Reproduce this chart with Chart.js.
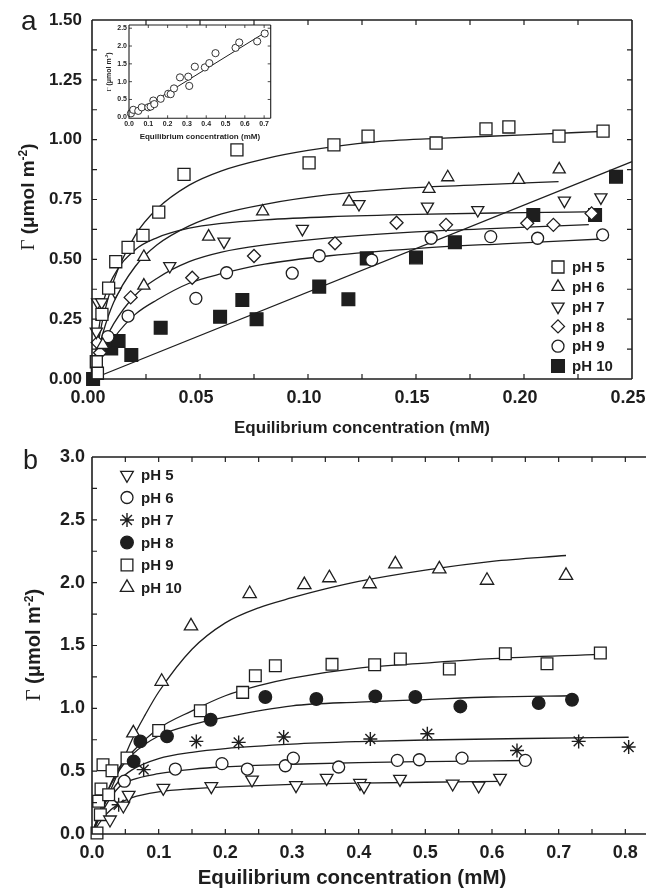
<!DOCTYPE html>
<html><head><meta charset="utf-8">
<script src="https://cdn.jsdelivr.net/npm/chart.js@4.4.1/dist/chart.umd.min.js"></script>
<style>
html,body{margin:0;padding:0;background:#fff;width:646px;height:890px;overflow:hidden;}
#wrap{position:relative;width:646px;height:890px;background:#fff;}
canvas{position:absolute;}
</style></head><body>
<div id="wrap">
<canvas id="cA" width="646" height="445" style="left:0;top:0"></canvas>
<canvas id="cIn" width="185" height="128" style="left:95px;top:18px"></canvas>
<canvas id="cB" width="646" height="445" style="left:0;top:445px"></canvas>
</div>
<script>
// ---------------- Panel a data ----------------
const aSeries = ['pH 5', 'pH 6', 'pH 7', 'pH 8', 'pH 9', 'pH 10'];
const aTicksX = [0, 0.05, 0.10, 0.15, 0.20, 0.25];
const aTicksY = [0, 0.25, 0.5, 0.75, 1.0, 1.25, 1.5];

const aPH5x = [0.002, 0.0025, 0.0046, 0.0077, 0.011, 0.0167, 0.0236, 0.0309, 0.0426, 0.0671, 0.1005, 0.112, 0.1278, 0.1593, 0.1824, 0.193, 0.2162, 0.2366];
const aPH5y = [0.072, 0.024, 0.27, 0.38, 0.49, 0.55, 0.60, 0.697, 0.855, 0.957, 0.903, 0.978, 1.015, 0.986, 1.045, 1.053, 1.015, 1.036];
const aPH6x = [0.005, 0.024, 0.024, 0.054, 0.079, 0.119, 0.156, 0.1647, 0.1975, 0.2163];
const aPH6y = [0.142, 0.39, 0.51, 0.595, 0.70, 0.741, 0.794, 0.843, 0.832, 0.876];
const aPH7x = [0.0026, 0.0045, 0.002, 0.0107, 0.036, 0.0611, 0.0974, 0.1236, 0.1553, 0.1786, 0.2187, 0.2356];
const aPH7y = [0.32, 0.32, 0.198, 0.365, 0.472, 0.574, 0.627, 0.731, 0.72, 0.706, 0.745, 0.759];
const aPH8x = [0.0026, 0.0037, 0.0179, 0.0464, 0.075, 0.1125, 0.141, 0.1639, 0.2015, 0.2136, 0.2313];
const aPH8y = [0.152, 0.11, 0.341, 0.423, 0.514, 0.567, 0.653, 0.644, 0.651, 0.644, 0.692];
const aPH9x = [0.0074, 0.0167, 0.0481, 0.0623, 0.0927, 0.1052, 0.1295, 0.157, 0.1846, 0.2063, 0.2364];
const aPH9y = [0.177, 0.263, 0.337, 0.444, 0.442, 0.515, 0.497, 0.588, 0.595, 0.588, 0.602];
const aPH10x = [0.0005, 0.0089, 0.0123, 0.0182, 0.0318, 0.0593, 0.0696, 0.0762, 0.1052, 0.1187, 0.1272, 0.150, 0.168, 0.2043, 0.2329, 0.2426];
const aPH10y = [0.0, 0.128, 0.159, 0.10, 0.214, 0.26, 0.33, 0.25, 0.386, 0.333, 0.504, 0.508, 0.571, 0.685, 0.685, 0.845];

// fitted curves
const aFit5x = [0, 0.005, 0.01, 0.02, 0.03, 0.045, 0.06, 0.08, 0.10, 0.13, 0.16, 0.20, 0.237];
const aFit5y = [0, 0.25, 0.41, 0.60, 0.71, 0.81, 0.87, 0.92, 0.955, 0.99, 1.005, 1.02, 1.035];
const aFit6x = [0, 0.005, 0.01, 0.02, 0.03, 0.045, 0.06, 0.08, 0.11, 0.15, 0.19, 0.216];
const aFit6y = [0, 0.19, 0.32, 0.47, 0.56, 0.64, 0.69, 0.73, 0.77, 0.80, 0.815, 0.825];
const aFit7x = [0, 0.005, 0.01, 0.02, 0.03, 0.045, 0.06, 0.08, 0.11, 0.15, 0.19, 0.236];
const aFit7y = [0, 0.31, 0.43, 0.54, 0.59, 0.63, 0.65, 0.665, 0.678, 0.688, 0.694, 0.699];
const aFit8x = [0, 0.005, 0.01, 0.02, 0.03, 0.045, 0.06, 0.08, 0.11, 0.15, 0.19, 0.23];
const aFit8y = [0, 0.14, 0.23, 0.35, 0.42, 0.49, 0.53, 0.56, 0.59, 0.615, 0.63, 0.645];
const aFit9x = [0, 0.005, 0.01, 0.02, 0.03, 0.045, 0.06, 0.08, 0.11, 0.15, 0.19, 0.236];
const aFit9y = [0, 0.10, 0.17, 0.27, 0.33, 0.40, 0.44, 0.48, 0.515, 0.545, 0.565, 0.585];
const aFit10x = [0, 0.25];
const aFit10y = [0, 0.908];

// ---------------- Inset data ----------------
const inTicksX = [0, 0.1, 0.2, 0.3, 0.4, 0.5, 0.6, 0.7];
const inTicksY = [0, 0.5, 1.0, 1.5, 2.0, 2.5];
const inX = [0.010, 0.022, 0.048, 0.066, 0.100, 0.112, 0.126, 0.131, 0.164, 0.203, 0.216, 0.233, 0.264, 0.307, 0.312, 0.341, 0.393, 0.416, 0.448, 0.552, 0.571, 0.664, 0.703];
const inY = [0.11, 0.21, 0.18, 0.28, 0.28, 0.30, 0.47, 0.37, 0.52, 0.66, 0.65, 0.81, 1.12, 1.14, 0.88, 1.42, 1.40, 1.52, 1.80, 1.95, 2.10, 2.13, 2.35];
const inFitX = [0, 0.72];
const inFitY = [0.02, 2.43];

// ---------------- Panel b data ----------------
const bSeries = ['pH 5', 'pH 6', 'pH 7', 'pH 8', 'pH 9', 'pH 10'];
const bTicksX = [0, 0.1, 0.2, 0.3, 0.4, 0.5, 0.6, 0.7, 0.8];
const bTicksY = [0, 0.5, 1.0, 1.5, 2.0, 2.5, 3.0];

const bPH5x = [0.027, 0.047, 0.055, 0.107, 0.179, 0.24, 0.306, 0.352, 0.402, 0.408, 0.462, 0.541, 0.58, 0.612];
const bPH5y = [0.114, 0.225, 0.31, 0.366, 0.379, 0.432, 0.387, 0.445, 0.405, 0.379, 0.437, 0.40, 0.384, 0.445];
const bPH6x = [0.0485, 0.125, 0.195, 0.233, 0.29, 0.302, 0.37, 0.458, 0.491, 0.555, 0.65];
const bPH6y = [0.42, 0.517, 0.56, 0.517, 0.543, 0.604, 0.533, 0.586, 0.591, 0.604, 0.586];
const bPH7x = [0.04, 0.0775, 0.1565, 0.22, 0.2875, 0.4175, 0.503, 0.6375, 0.73, 0.805];
const bPH7y = [0.233, 0.512, 0.737, 0.729, 0.772, 0.756, 0.798, 0.665, 0.737, 0.692];
const bPH8x = [0.0625, 0.0725, 0.1125, 0.178, 0.26, 0.3365, 0.425, 0.485, 0.5525, 0.67, 0.72];
const bPH8y = [0.578, 0.737, 0.777, 0.909, 1.09, 1.074, 1.095, 1.09, 1.015, 1.042, 1.068];
const bPH9x = [0.0075, 0.0125, 0.01, 0.0135, 0.0165, 0.025, 0.03, 0.0525, 0.1, 0.1625, 0.226, 0.245, 0.275, 0.36, 0.424, 0.4625, 0.536, 0.62, 0.6825, 0.7625];
const bPH9y = [0.008, 0.154, 0.26, 0.358, 0.551, 0.313, 0.503, 0.605, 0.824, 0.981, 1.127, 1.26, 1.339, 1.35, 1.347, 1.392, 1.313, 1.434, 1.355, 1.44];
const bPH10x = [0.062, 0.1045, 0.1485, 0.2365, 0.3185, 0.356, 0.4165, 0.455, 0.521, 0.5925, 0.711];
const bPH10y = [0.803, 1.214, 1.655, 1.912, 1.983, 2.038, 1.99, 2.148, 2.108, 2.018, 2.057];

const bFit5x = [0, 0.02, 0.04, 0.06, 0.1, 0.15, 0.2, 0.3, 0.4, 0.5, 0.612];
const bFit5y = [0, 0.15, 0.24, 0.29, 0.335, 0.36, 0.375, 0.395, 0.405, 0.412, 0.418];
const bFit6x = [0, 0.02, 0.04, 0.06, 0.1, 0.15, 0.2, 0.3, 0.4, 0.5, 0.65];
const bFit6y = [0, 0.22, 0.37, 0.43, 0.48, 0.515, 0.535, 0.555, 0.568, 0.576, 0.585];
const bFit7x = [0, 0.02, 0.04, 0.06, 0.1, 0.15, 0.2, 0.3, 0.4, 0.5, 0.65, 0.805];
const bFit7y = [0, 0.25, 0.42, 0.51, 0.6, 0.65, 0.68, 0.715, 0.735, 0.748, 0.76, 0.77];
const bFit8x = [0, 0.02, 0.04, 0.06, 0.1, 0.15, 0.2, 0.3, 0.4, 0.5, 0.6, 0.72];
const bFit8y = [0, 0.3, 0.5, 0.63, 0.78, 0.87, 0.93, 1.02, 1.05, 1.07, 1.09, 1.10];
const bFit9x = [0, 0.02, 0.04, 0.06, 0.1, 0.15, 0.2, 0.25, 0.3, 0.4, 0.5, 0.6, 0.7625];
const bFit9y = [0, 0.3, 0.52, 0.65, 0.84, 0.98, 1.10, 1.18, 1.24, 1.32, 1.36, 1.395, 1.43];
const bFit10x = [0, 0.02, 0.04, 0.06, 0.08, 0.1, 0.15, 0.2, 0.25, 0.3, 0.35, 0.4, 0.5, 0.6, 0.711];
const bFit10y = [0, 0.25, 0.5, 0.75, 0.95, 1.13, 1.47, 1.68, 1.8, 1.88, 1.95, 2.01, 2.1, 2.17, 2.216];

// ---------------- helpers ----------------
const SANS = '"Liberation Sans", Arial, Helvetica, sans-serif';
const SERIF = '"Liberation Serif", "Times New Roman", serif';
const INK = '#1e1e1e';
const zip = (xs, ys) => xs.map((x, i) => ({x: x, y: ys[i]}));

function marker(label, xs, ys, st) {
  return {
    label: label, data: zip(xs, ys), showLine: false, order: 0, clip: false,
    pointStyle: st.style, pointRadius: st.r, pointHoverRadius: st.r, pointRotation: st.rot || 0,
    pointBorderWidth: st.bw || 1.3, pointBorderColor: INK,
    pointBackgroundColor: st.fill ? INK : '#ffffff'
  };
}
function curve(xs, ys, lw) {
  return {
    label: '', data: zip(xs, ys), showLine: true, order: 1, clip: false,
    borderColor: INK, borderWidth: lw || 1.3, pointRadius: 0, pointHoverRadius: 0,
    cubicInterpolationMode: 'monotone', fill: false
  };
}

function drawMarker(ctx, st, x, y) {
  ctx.save();
  ctx.strokeStyle = INK; ctx.fillStyle = st.fill ? INK : '#fff'; ctx.lineWidth = st.bw || 1.3;
  if (Chart.helpers && Chart.helpers.drawPoint) {
    Chart.helpers.drawPoint(ctx, {pointStyle: st.style, rotation: st.rot || 0, radius: st.r, borderWidth: st.bw || 1.3}, x, y);
  }
  ctx.restore();
}

function drawYTitle(ctx, cx, cy, size) {
  const supSize = Math.round(size * 0.62);
  const parts = [
    ['\u0393', size + 'px ' + SERIF, 0],
    [' (\u03bcmol m', 'bold ' + size + 'px ' + SANS, 0],
    ['-2', 'bold ' + supSize + 'px ' + SANS, -size * 0.38],
    [')', 'bold ' + size + 'px ' + SANS, 0]
  ];
  ctx.save();
  ctx.translate(cx, cy); ctx.rotate(-Math.PI / 2);
  ctx.fillStyle = INK; ctx.textBaseline = 'alphabetic'; ctx.textAlign = 'left';
  let total = 0;
  parts.forEach(p => { ctx.font = p[1]; total += ctx.measureText(p[0]).width; });
  let x = -total / 2;
  const base = size * 0.36;
  parts.forEach(p => { ctx.font = p[1]; ctx.fillText(p[0], x, base + p[2]); x += ctx.measureText(p[0]).width; });
  ctx.restore();
}

const framePlugin = {
  id: 'frame',
  afterDraw(chart, args, o) {
    const ctx = chart.ctx, a = chart.chartArea, xs = chart.scales.x, ys = chart.scales.y;
    ctx.save();
    ctx.strokeStyle = INK; ctx.lineWidth = o.lw; ctx.lineCap = 'butt';
    ctx.beginPath();
    ctx.moveTo(a.left, a.top); ctx.lineTo(a.left, a.bottom); ctx.lineTo(a.right, a.bottom);
    ctx.moveTo(a.left, a.top); ctx.lineTo(a.right, a.top);
    if (o.right) { ctx.moveTo(a.right, a.top); ctx.lineTo(a.right, a.bottom); }
    ctx.stroke();
    ctx.lineWidth = o.tw;
    ctx.beginPath();
    const nx = Math.round((xs.max - xs.min) / o.xStep) + 1;
    for (let i = 0; i < nx; i++) {
      const px = xs.getPixelForValue(xs.min + i * o.xStep);
      if (px <= a.left + 1 || px >= a.right - 1) continue;
      ctx.moveTo(px, a.bottom); ctx.lineTo(px, a.bottom - o.len);
      ctx.moveTo(px, a.top); ctx.lineTo(px, a.top + o.len);
    }
    const ny = Math.round((ys.max - ys.min) / o.yStep) + 1;
    for (let i = 0; i < ny; i++) {
      const py = ys.getPixelForValue(Math.ceil(ys.min / o.yStep) * o.yStep + i * o.yStep);
      if (py <= a.top + 1 || py >= a.bottom - 1) continue;
      ctx.moveTo(a.left, py); ctx.lineTo(a.left + o.len, py);
      if (o.right) { ctx.moveTo(a.right, py); ctx.lineTo(a.right - o.len, py); }
    }
    ctx.stroke();
    ctx.restore();
  }
};

const decoPlugin = {
  id: 'deco',
  afterDraw(chart, args, o) {
    const ctx = chart.ctx;
    if (o.letter) {
      ctx.save(); ctx.fillStyle = INK; ctx.font = o.letter.size + 'px ' + SANS;
      ctx.textBaseline = 'alphabetic'; ctx.textAlign = 'left';
      ctx.fillText(o.letter.text, o.letter.x, o.letter.y); ctx.restore();
    }
    if (o.xtitle) {
      ctx.save(); ctx.fillStyle = INK; ctx.font = 'bold ' + o.xtitle.size + 'px ' + SANS;
      ctx.textBaseline = 'middle'; ctx.textAlign = 'center';
      ctx.fillText(o.xtitle.text, o.xtitle.x, o.xtitle.y); ctx.restore();
    }
    if (o.ytitle) drawYTitle(ctx, o.ytitle.x, o.ytitle.y, o.ytitle.size);
    if (o.legend) {
      const L = o.legend;
      L.items.forEach((it, i) => {
        const y = L.y0 + i * L.dy;
        drawMarker(ctx, it.st, L.mx, y);
        ctx.save(); ctx.fillStyle = INK; ctx.font = 'bold ' + L.size + 'px ' + SANS;
        ctx.textBaseline = 'middle'; ctx.textAlign = 'left';
        ctx.fillText(it.label, L.tx, y + 1); ctx.restore();
      });
    }
  }
};

function fixW(w) { return s => { s.width = w; s.paddingTop = 0; s.paddingBottom = 0; }; }
function fixH(h) { return s => { s.height = h; s.paddingLeft = 0; s.paddingRight = 0; }; }

Chart.defaults.font.family = SANS;
Chart.defaults.color = INK;

// ---------------- Panel a ----------------
const stA = [
  {style: 'rect', r: 8.5},
  {style: 'triangle', r: 7},
  {style: 'triangle', r: 7, rot: 180},
  {style: 'rectRot', r: 6.5},
  {style: 'circle', r: 6},
  {style: 'rect', r: 9, fill: true}
];
const aPts = [[aPH5x, aPH5y], [aPH6x, aPH6y], [aPH7x, aPH7y], [aPH8x, aPH8y], [aPH9x, aPH9y], [aPH10x, aPH10y]];
const aFits = [[aFit5x, aFit5y], [aFit6x, aFit6y], [aFit7x, aFit7y], [aFit8x, aFit8y], [aFit9x, aFit9y], [aFit10x, aFit10y]];

new Chart(document.getElementById('cA'), {
  type: 'scatter',
  data: {datasets: aPts.map((p, i) => marker(aSeries[i], p[0], p[1], stA[i])).concat(aFits.map(f => curve(f[0], f[1], 1.3)))},
  options: {
    responsive: false, animation: false, devicePixelRatio: 1,
    layout: {autoPadding: false, padding: {left: 0, top: 20, right: 14, bottom: 0}},
    events: [],
    plugins: {
      legend: {display: false}, tooltip: {enabled: false},
      frame: {lw: 1.6, tw: 1.2, len: 5, xStep: 0.025, yStep: 0.125, right: true},
      deco: {
        letter: {text: 'a', x: 21, y: 30, size: 28},
        ytitle: {x: 27, y: 197, size: 19},
        legend: {mx: 558, tx: 572, y0: 267, dy: 19.8, size: 15,
          items: aSeries.map((s, i) => ({label: s, st: stA[i]}))}
      }
    },
    scales: {
      x: {
        type: 'linear', min: 0, max: 0.25, afterFit: fixH(66),
        afterBuildTicks: s => { s.ticks = aTicksX.map(v => ({value: v})); },
        ticks: {callback: v => v.toFixed(2), font: {size: 18, weight: 'bold'}, color: INK, padding: 8, labelOffset: -4, maxRotation: 0, autoSkip: false},
        grid: {display: false, drawTicks: false}, border: {display: false},
        title: {display: true, text: 'Equilibrium concentration (mM)', font: {size: 17, weight: 'bold'}, color: INK, padding: {top: 0, bottom: 6}}
      },
      y: {
        type: 'linear', min: 0, max: 1.5, afterFit: fixW(92),
        afterBuildTicks: s => { s.ticks = aTicksY.map(v => ({value: v})); },
        ticks: {callback: v => v.toFixed(2), font: {size: 17, weight: 'bold'}, color: INK, padding: 10},
        grid: {display: false, drawTicks: false}, border: {display: false}
      }
    }
  },
  plugins: [framePlugin, decoPlugin]
});

// ---------------- Inset ----------------
new Chart(document.getElementById('cIn'), {
  type: 'scatter',
  data: {datasets: [
    marker('inset', inX, inY, {style: 'circle', r: 3.6, bw: 0.9}),
    curve(inFitX, inFitY, 1)
  ]},
  options: {
    responsive: false, animation: false, devicePixelRatio: 1, events: [],
    layout: {autoPadding: false, padding: {left: 0, top: 7, right: 9.3, bottom: 0}},
    plugins: {
      legend: {display: false}, tooltip: {enabled: false},
      frame: {lw: 1.1, tw: 0.8, len: 3, xStep: 0.1, yStep: 0.5, right: true},
      deco: {ytitle: {x: 13, y: 54, size: 7}}
    },
    scales: {
      x: {
        type: 'linear', min: 0, max: 0.734, afterFit: fixH(27.7),
        afterBuildTicks: s => { s.ticks = inTicksX.map(v => ({value: v})); },
        ticks: {callback: v => v.toFixed(1), font: {size: 7, weight: 'bold'}, color: INK, padding: 2, maxRotation: 0, autoSkip: false},
        grid: {display: false, drawTicks: false}, border: {display: false},
        title: {display: true, text: 'Equilibrium concentration (mM)', font: {size: 8, weight: 'bold'}, color: INK, padding: {top: 0, bottom: 4}}
      },
      y: {
        type: 'linear', min: -0.028, max: 2.59, afterFit: fixW(34),
        afterBuildTicks: s => { s.ticks = inTicksY.map(v => ({value: v})); },
        ticks: {callback: v => v.toFixed(1), font: {size: 7, weight: 'bold'}, color: INK, padding: 2},
        grid: {display: false, drawTicks: false}, border: {display: false}
      }
    }
  },
  plugins: [framePlugin, decoPlugin]
});

// ---------------- Panel b ----------------
const stB = [
  {style: 'triangle', r: 7.3, rot: 180},
  {style: 'circle', r: 6},
  {style: 'star', r: 7, bw: 1.4},
  {style: 'circle', r: 6.3, fill: true},
  {style: 'rect', r: 8.3},
  {style: 'triangle', r: 7.7}
];
const bPts = [[bPH5x, bPH5y], [bPH6x, bPH6y], [bPH7x, bPH7y], [bPH8x, bPH8y], [bPH9x, bPH9y], [bPH10x, bPH10y]];
const bFits = [[bFit5x, bFit5y], [bFit6x, bFit6y], [bFit7x, bFit7y], [bFit8x, bFit8y], [bFit9x, bFit9y], [bFit10x, bFit10y]];

new Chart(document.getElementById('cB'), {
  type: 'scatter',
  data: {datasets: bPts.map((p, i) => marker(bSeries[i], p[0], p[1], stB[i])).concat(bFits.map(f => curve(f[0], f[1], 1.3)))},
  options: {
    responsive: false, animation: false, devicePixelRatio: 1, events: [],
    layout: {autoPadding: false, padding: {left: 0, top: 12, right: 0, bottom: 0}},
    plugins: {
      legend: {display: false}, tooltip: {enabled: false},
      frame: {lw: 1.6, tw: 1.2, len: 5, xStep: 0.05, yStep: 0.25, right: false},
      deco: {
        letter: {text: 'b', x: 23, y: 23.5, size: 27},
        xtitle: {text: 'Equilibrium concentration (mM)', x: 352, y: 433, size: 20.5},
        ytitle: {x: 33, y: 200, size: 20},
        legend: {mx: 127, tx: 141, y0: 30, dy: 22.5, size: 15,
          items: bSeries.map((s, i) => ({label: s, st: stB[i]}))}
      }
    },
    scales: {
      x: {
        type: 'linear', min: 0, max: 0.831, afterFit: fixH(56),
        afterBuildTicks: s => { s.ticks = bTicksX.map(v => ({value: v})); },
        ticks: {callback: v => v.toFixed(1), font: {size: 18, weight: 'bold'}, color: INK, padding: 8, maxRotation: 0, autoSkip: false},
        grid: {display: false, drawTicks: false}, border: {display: false},
        title: {display: false, text: 'Equilibrium concentration (mM)'}
      },
      y: {
        type: 'linear', min: 0, max: 3, afterFit: fixW(92),
        afterBuildTicks: s => { s.ticks = bTicksY.map(v => ({value: v})); },
        ticks: {callback: v => v.toFixed(1), font: {size: 18, weight: 'bold'}, color: INK, padding: 7},
        grid: {display: false, drawTicks: false}, border: {display: false}
      }
    }
  },
  plugins: [framePlugin, decoPlugin]
});
</script>
</body></html>
